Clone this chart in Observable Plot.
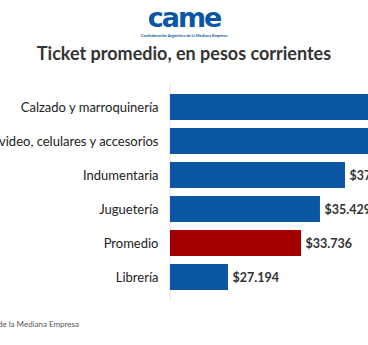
<!DOCTYPE html>
<html>
<head>
<meta charset="utf-8">
<script src="https://cdn.jsdelivr.net/npm/d3@7"></script>
<script src="https://cdn.jsdelivr.net/npm/@observablehq/plot@0.6"></script>
<style>
  html, body { margin: 0; padding: 0; background: #fff; }
  body { width: 368px; height: 345px; position: relative; overflow: hidden; font-family: Lato, sans-serif; }
  #logo { position: absolute; left: 0; width: 368px; top: 2px; text-align: center; font-family: "DejaVu Sans", sans-serif; font-weight: bold; font-size: 27px; color: #0b57a5; letter-spacing: -2px; line-height: 31px; }
  #logosub { position: absolute; left: 0; width: 368px; top: 33px; text-align: center; font-size: 4px; line-height: 5px; color: #0b57a5; font-weight: bold; white-space: nowrap; }
  #title { position: absolute; left: 0; width: 368px; top: 42px; text-align: center; font-weight: bold; font-size: 18px; color: #333; white-space: nowrap; }
  #chart { position: absolute; left: 0; top: 80px; }
  #foot { position: absolute; right: 289px; top: 319px; font-size: 8px; color: #555; white-space: nowrap; }
</style>
</head>
<body>
<div id="logo">came</div>
<div id="logosub">Confederación Argentina de la Mediana Empresa</div>
<div id="title">Ticket promedio, en pesos corrientes</div>
<div id="chart"></div>
<div id="foot">Fuente: Confederación Argentina de la Mediana Empresa</div>
<script>
const categories = ["Calzado y marroquinería", "Audio, video, celulares y accesorios", "Indumentaria", "Juguetería", "Promedio", "Librería"];
const values = [46850, 43120, 37668, 35429, 33736, 27194];
const highlight = ["Promedio"];
const xDomain = [22000, 39730];

const data = categories.map((c, i) => ({category: c, value: values[i], hi: highlight.includes(c)}));
const fmt = v => "$" + d3.format(",")(v).replace(/,/g, ".");

const chart = Plot.plot({
  width: 368,
  height: 225,
  marginTop: 3,
  marginBottom: 4.5,
  marginLeft: 170,
  marginRight: 0,
  style: {fontFamily: "Lato, sans-serif"},
  x: {domain: xDomain, axis: null},
  y: {domain: categories, padding: 0.25, label: null, tickSize: 0, tickPadding: 12},
  marks: [
    Plot.axisY({tickSize: 0, tickPadding: 12, fontSize: 13, fill: "#222", label: null}),
    Plot.ruleX([xDomain[0]], {stroke: "#e4e4e4", strokeWidth: 1, dx: -0.5}),
    Plot.barX(data, {y: "category", x1: () => xDomain[0], x2: "value", fill: d => d.hi ? "#a50000" : "#0b57a5"}),
    Plot.text(data, {y: "category", x: "value", text: d => fmt(d.value), textAnchor: "start", dx: 4, fontSize: 12.5, fontWeight: "bold", fill: "#333"})
  ]
});
document.getElementById("chart").appendChild(chart);
</script>
</body>
</html>
